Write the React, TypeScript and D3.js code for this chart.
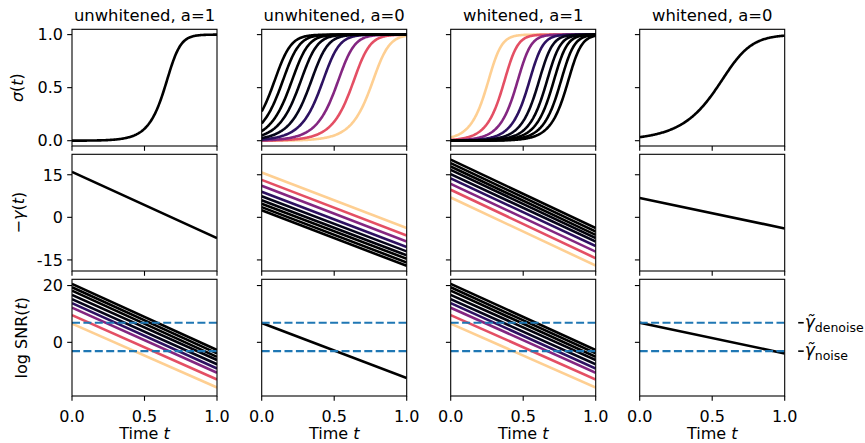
import React from "react";
import * as d3 from "d3";

const WIDTH = 865;
const HEIGHT = 443;
const COL_X = [72, 261.7, 450.7, 639.7];
const ROW_Y = [29.3, 154.3, 279.3];
const PANEL_W = 145;
const PANEL_H = 116.7;
const FONT = "DejaVu Sans, sans-serif";

const titles = ["unwhitened, a=1", "unwhitened, a=0", "whitened, a=1", "whitened, a=0"];

// magma colormap positions, drawn in this order (light first, black last)
const magmaPos = [0.9, 0.62, 0.38, 0.17, 0.05, 0.02, 0, 0, 0];

// -gamma(t), value at t=0 and at t=1, one entry per line
const negGammaStart = [
  [16.0],
  [15.8, 13.2, 11.1, 9.0, 7.4, 6.0, 4.8, 3.6, 2.5],
  [7.0, 9.7, 11.8, 13.7, 15.2, 16.7, 17.9, 19.1, 20.3],
  [6.8],
];
const negGammaEnd = [
  [-7.3],
  [-3.8, -6.4, -8.5, -10.5, -12.0, -13.4, -14.6, -15.9, -17.1],
  [-17.0, -14.4, -12.1, -10.1, -8.5, -7.3, -6.2, -5.0, -3.8],
  [-3.9],
];

// log SNR(t), value at t=0 and at t=1
const logSnrStart = [
  [6.6, 9.6, 12.2, 13.8, 15.2, 16.7, 18.2, 19.4, 20.6],
  [6.8],
  [6.6, 9.6, 12.2, 13.8, 15.2, 16.7, 18.2, 19.4, 20.6],
  [6.9],
];
const logSnrEnd = [
  [-15.9, -13.1, -10.7, -9.2, -7.7, -6.2, -5.1, -3.9, -2.7],
  [-12.6],
  [-15.9, -13.1, -10.7, -9.2, -7.7, -6.2, -5.1, -3.9, -2.7],
  [-3.9],
];

const gammaDenoise = 6.9;
const gammaNoise = -3.1;

const xTicks = [0, 0.5, 1];
const xTickLabels = ["0.0", "0.5", "1.0"];
const sigmaTicks = [0, 0.5, 1];
const sigmaTickLabels = ["0.0", "0.5", "1.0"];
const gammaTicks = [-15, 0, 15];
const gammaTickLabels = ["-15", "0", "15"];
const snrTicks = [0, 20];
const snrTickLabels = ["0", "20"];

const x = d3.scaleLinear().domain([0, 1]).range([0, PANEL_W]);
const ySigma = d3.scaleLinear().domain([-0.05, 1.05]).range([PANEL_H, 0]);
const yGamma = d3.scaleLinear().domain([-18.9, 22.2]).range([PANEL_H, 0]);

const tGrid = d3.range(0, 1.0001, 0.005);

const colorOf = (i: number, n: number) =>
  n === 1 ? "#000000" : magmaPos[i] === 0 ? "#000000" : d3.interpolateMagma(magmaPos[i]);

const straight = d3
  .line<number[]>()
  .x(d => x(d[0]))
  .y(d => yGamma(d[1]));

const sigmaLine = d3
  .line<number[]>()
  .x(d => x(d[0]))
  .y(d => ySigma(d[1]));

// sigma^2 = sigmoid(gamma), gamma
function sigmaPath(s: number, e: number) {
  const pts = tGrid.map(t => {
    const ng = s + (e - s) * t;
    return [t, Math.sqrt(1 / (1 + Math.exp(ng)))];
  });
  return sigmaLine(pts) || "";
}

function Panel({ col, row }: { col: number; row: number }) {
  const ys = row === 0 ? ySigma : yGamma;
  const ticks = row === 0 ? sigmaTicks : row === 1 ? gammaTicks : snrTicks;
  const tickLabels = row === 0 ? sigmaTickLabels : row === 1 ? gammaTickLabels : snrTickLabels;
  const clipId = `clip-${col}-${row}`;

  let lines: React.ReactNode[] = [];
  if (row === 0) {
    const s = negGammaStart[col];
    const e = negGammaEnd[col];
    lines = s.map((v, i) => (
      <path key={i} d={sigmaPath(v, e[i])} fill="none" stroke={colorOf(i, s.length)} strokeWidth={2.6} />
    ));
  } else {
    const s = row === 1 ? negGammaStart[col] : logSnrStart[col];
    const e = row === 1 ? negGammaEnd[col] : logSnrEnd[col];
    lines = s.map((v, i) => (
      <path
        key={i}
        d={straight([[0, v], [1, e[i]]]) || ""}
        fill="none"
        stroke={colorOf(i, s.length)}
        strokeWidth={2.6}
      />
    ));
  }

  return (
    <g transform={`translate(${COL_X[col]},${ROW_Y[row]})`}>
      <defs>
        <clipPath id={clipId}>
          <rect x={0} y={0} width={PANEL_W} height={PANEL_H} />
        </clipPath>
      </defs>
      <g clipPath={`url(#${clipId})`}>
        {lines}
        {row === 2 &&
          [gammaDenoise, gammaNoise].map(v => (
            <line
              key={v}
              x1={0}
              x2={PANEL_W}
              y1={yGamma(v)}
              y2={yGamma(v)}
              stroke="#1f77b4"
              strokeWidth={2.2}
              strokeDasharray="8,3.4"
            />
          ))}
      </g>
      <rect x={0} y={0} width={PANEL_W} height={PANEL_H} fill="none" stroke="#000" strokeWidth={1.1} />
      {ticks.map((t, i) => (
        <g key={t} transform={`translate(0,${ys(t)})`}>
          <line x1={-4.8} x2={0} stroke="#000" strokeWidth={1.1} />
          {col === 0 && (
            <text x={-9} dy="0.36em" textAnchor="end" fontSize={16} fontFamily={FONT}>
              {tickLabels[i]}
            </text>
          )}
        </g>
      ))}
      {xTicks.map((t, i) => (
        <g key={t} transform={`translate(${x(t)},${PANEL_H})`}>
          <line y1={0} y2={4.8} stroke="#000" strokeWidth={1.1} />
          {row === 2 && (
            <text y={25.5} textAnchor="middle" fontSize={16} fontFamily={FONT}>
              {xTickLabels[i]}
            </text>
          )}
        </g>
      ))}
      {row === 0 && (
        <text x={PANEL_W / 2} y={-8} textAnchor="middle" fontSize={16.4} fontFamily={FONT}>
          {titles[col]}
        </text>
      )}
      {row === 2 && (
        <text x={PANEL_W / 2} y={PANEL_H + 43.5} textAnchor="middle" fontSize={16} fontFamily={FONT}>
          Time <tspan fontStyle="italic">t</tspan>
        </text>
      )}
      {row === 2 && col === 3 &&
        [
          { v: gammaDenoise, sub: "denoise" },
          { v: gammaNoise, sub: "noise" },
        ].map(d => (
          <g key={d.sub} transform={`translate(${PANEL_W},${yGamma(d.v)})`}>
            <line x1={13.5} x2={19} stroke="#000" strokeWidth={1.6} />
            <text x={20} y={5} fontSize={17} fontFamily={FONT}>
              <tspan fontStyle="italic">{"\u03b3\u0303"}</tspan>
              <tspan fontSize={12.5} dy={4}>
                {d.sub}
              </tspan>
            </text>
          </g>
        ))}
    </g>
  );
}

export default function App() {
  const yLabels = [
    { cx: 16.5, key: "s", content: (<><tspan fontStyle="italic">σ</tspan>(<tspan fontStyle="italic">t</tspan>)</>) },
    { cx: 18, key: "g", content: (<>−<tspan fontStyle="italic">γ</tspan>(<tspan fontStyle="italic">t</tspan>)</>) },
    { cx: 21, key: "n", content: (<>log SNR(<tspan fontStyle="italic">t</tspan>)</>) },
  ];
  return (
    <svg
      width={WIDTH}
      height={HEIGHT}
      style={{ position: "absolute", left: 0, top: 0, background: "#fff" }}
    >
      {[0, 1, 2].map(r =>
        [0, 1, 2, 3].map(c => <Panel key={`${c}-${r}`} col={c} row={r} />)
      )}
      {yLabels.map((l, r) => (
        <text
          key={l.key}
          transform={`translate(${l.cx},${ROW_Y[r] + PANEL_H / 2}) rotate(-90)`}
          textAnchor="middle"
          dominantBaseline="central"
          fontSize={16}
          fontFamily={FONT}
        >
          {l.content}
        </text>
      ))}
    </svg>
  );
}
